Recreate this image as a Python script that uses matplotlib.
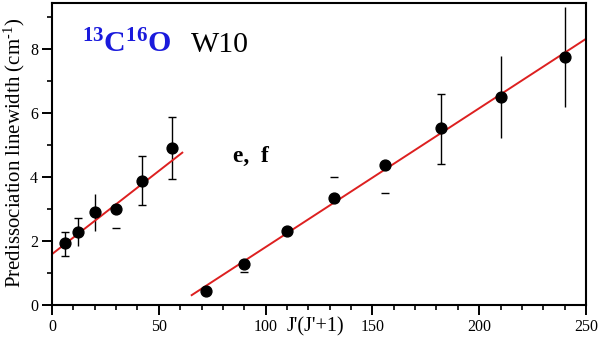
import numpy as np
import matplotlib
matplotlib.use("Agg")
import matplotlib.pyplot as plt
from matplotlib.ticker import MultipleLocator

nan = np.nan

# J'(J'+1) values and measured predissociation linewidths (cm-1)
jj = [6, 12, 20, 30, 42, 56, 72, 90, 110, 132, 156, 182, 210, 240]
width = [1.93, 2.29, 2.90, 3.00, 3.88, 4.90, 0.45, 1.29, 2.32, 3.35, 4.37, 5.52, 6.51, 7.76]

# error bar stems (drawn where present in the original)
bar_lo = [1.53, 1.84, 2.32, nan, 3.12, 3.93, nan, nan, nan, nan, nan, 4.40, 5.21, 6.20]
bar_hi = [2.27, 2.73, 3.47, nan, 4.66, 5.87, nan, nan, nan, nan, nan, 6.58, 7.78, 9.30]
# error bar caps
cap_lo = [1.53, nan, nan, 2.40, 3.12, 3.93, nan, 1.02, nan, nan, 3.49, 4.40, nan, nan]
cap_hi = [2.27, 2.73, nan, nan, 4.66, 5.87, nan, nan, nan, 4.01, nan, 6.58, nan, nan]

# linear fits: (x start, x end, intercept, slope)
fit1 = (0.0, 61.0, 1.59, 0.052)
fit2 = (65.4, 250.0, -2.53, 0.0434)

plt.rcParams["font.family"] = ["Liberation Serif", "DejaVu Serif"]
plt.rcParams["mathtext.fontset"] = "custom"
plt.rcParams["mathtext.rm"] = "Liberation Serif"
plt.rcParams["mathtext.it"] = "Liberation Serif:italic"
plt.rcParams["mathtext.bf"] = "Liberation Serif:bold"

fig = plt.figure(figsize=(6.0, 3.46), dpi=100)
ax = fig.add_axes([52 / 600, 41 / 346, 534 / 600, 302 / 346])

red = "#dd2020"
for x0, x1, b, m in (fit1, fit2):
    xs = np.array([x0, x1])
    ax.plot(xs, b + m * xs, color=red, lw=1.4, zorder=2)

ax.vlines(jj, bar_lo, bar_hi, color="black", lw=1.0, zorder=1)
ax.plot(jj, cap_lo, ls="none", marker="_", ms=6, mew=1.0, color="black")
ax.plot(jj, cap_hi, ls="none", marker="_", ms=6, mew=1.0, color="black")
ax.plot(jj, width, ls="none", marker="o", ms=7.8, color="black", zorder=3)

ax.set_xlim(0, 250)
ax.set_ylim(0, 9.44)
ax.xaxis.set_major_locator(MultipleLocator(50))
ax.xaxis.set_minor_locator(MultipleLocator(10))
ax.yaxis.set_major_locator(MultipleLocator(2))
ax.yaxis.set_minor_locator(MultipleLocator(1))
ax.tick_params(which="major", direction="out", length=7, width=1.4, labelsize=11.5, pad=3)
ax.tick_params(which="minor", direction="out", length=3.5, width=1.2)
for s in ax.spines.values():
    s.set_linewidth(1.5)

ax.set_xlabel("J'(J'+1)", fontsize=14.5)
ax.xaxis.set_label_coords(0.493, -0.042)
ax.set_ylabel("Predissociation linewidth (cm$^{\\text{-}1}$)", fontsize=15)
ax.yaxis.set_label_coords(-0.047, 0.503)

ax.text(0.056, 0.838, "$\\mathbf{^{13}C^{16}O}$", transform=ax.transAxes,
        color="#1a1adc", fontsize=21.5, va="baseline")
ax.text(0.261, 0.838, "W10", transform=ax.transAxes, fontsize=21.5, va="baseline")
ax.text(0.339, 0.4735, "e,  f", transform=ax.transAxes, fontsize=17,
        fontweight="bold", va="baseline")

fig.savefig("out.png", dpi=100)
